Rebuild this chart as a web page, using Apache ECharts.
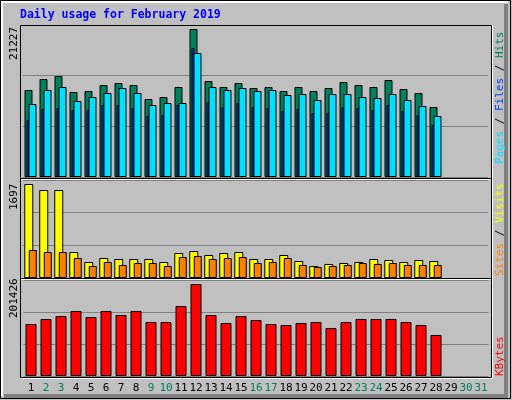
<!DOCTYPE html>
<html>
<head>
<meta charset="UTF-8">
<script src="https://cdn.jsdelivr.net/npm/echarts@6/dist/echarts.min.js"></script>
<style>
  body { margin: 0; }
  #chart { width: 512px; height: 400px; }
</style>
</head>
<body>
<div id="chart"></div>
<script>
var days = [];
for (var d = 1; d <= 31; d++) days.push(String(d));
var weekend = ['2', '3', '9', '10', '16', '17', '23', '24', '30', '31'];

var hits = [12476, 14053, 14483, 12189, 12332, 13193, 13480, 13193, 11185, 11472, 12906, 21227, 13766, 12906, 13480,
    12763, 12906, 12332, 12906, 12332, 12763, 13623, 13193, 12906, 13910, 12619, 12046, 10038, null, null, null];
var files = [10468, 12476, 12906, 10898, 11472, 12046, 12763, 12046, 10325, 10612, 10612, 17782, 12906, 12476, 12763,
    12332, 12476, 11759, 11902, 11042, 11902, 11902, 11472, 11329, 11902, 11042, 10181, 8747, null, null, null];
var pages = [8174, 9751, 9895, 9608, 9608, 10325, 10325, 9895, 8747, 8891, 10325, 18499, 10755, 10038, 10612,
    10038, 9895, 9464, 9751, 9178, 9178, 10038, 9895, 9608, 10325, 9464, 8891, 7457, null, null, null];
var visits = [1697, 1588, 1588, 469, 289, 361, 343, 343, 343, 289, 451, 487, 415, 451, 469,
    343, 343, 415, 307, 217, 253, 271, 289, 343, 325, 289, 325, 307, null, null, null];
var sites = [505, 469, 469, 361, 217, 289, 235, 271, 271, 217, 379, 397, 343, 361, 379,
    271, 289, 361, 235, 199, 217, 235, 271, 253, 271, 235, 235, 235, null, null, null];
var kbytes = [113854, 124802, 131370, 142318, 129181, 142318, 133560, 142318, 118233, 118233, 153265, 201426, 133560, 116044, 131370,
    122612, 113854, 111665, 116044, 118233, 105096, 118233, 124802, 124802, 124802, 118233, 111665, 89770, null, null, null];

var maxHits = 21801, maxVisits = 1769, maxKb = 210184;
var mono = 'DejaVu Sans Mono';

function xAx(gi, showLabels) {
    return {
        type: 'category', gridIndex: gi, data: days,
        axisLine: { show: false }, axisTick: { show: false },
        axisLabel: {
            show: showLabels, margin: 7, fontFamily: mono, fontSize: 11, interval: 0,
            color: function (v) { return weekend.indexOf(v) >= 0 ? '#00805c' : '#000'; }
        }
    };
}
function yAx(gi, max, grid) {
    return {
        type: 'value', gridIndex: gi, min: 0, max: max, interval: max / 3,
        axisLabel: { show: false }, axisLine: { show: false }, axisTick: { show: false },
        splitLine: { show: grid, lineStyle: { color: '#808080', width: 1 } }
    };
}
function bar(name, data, color, w, xi, z) {
    return {
        name: name, type: 'bar', data: data, xAxisIndex: xi, yAxisIndex: xi,
        barWidth: w, barGap: '-50%', z: z, animation: false,
        itemStyle: { color: color, borderColor: '#000', borderWidth: 1 }
    };
}

var chart = echarts.init(document.getElementById('chart'));
chart.setOption({
    backgroundColor: '#c0c0c0',
    grid: [
        { left: 23, right: 24, top: 25, height: 152 },
        { left: 20.5, right: 26.5, top: 25, height: 152 },
        { left: 23, right: 24, top: 180, height: 98 },
        { left: 23.5, right: 23.5, top: 280, height: 96 }
    ],
    xAxis: [xAx(0, false), xAx(1, false), xAx(2, false), xAx(3, true)],
    yAxis: [yAx(0, maxHits, true), yAx(1, maxHits, false), yAx(2, maxVisits, true), yAx(3, maxKb, true)],
    series: [
        bar('Hits', hits, '#00805c', 8, 0, 2),
        bar('Files', files, '#00e0ff', 8, 0, 4),
        bar('Pages', pages, '#0040ff', 3, 1, 3),
        bar('Visits', visits, '#ffff00', 9, 2, 2),
        bar('Sites', sites, '#ff8000', 8, 2, 3),
        bar('KBytes', kbytes, '#ff0000', 11, 3, 2)
    ],
    graphic: [
        { type: 'rect', z: -1, shape: { x: 0.5, y: 0.5, width: 510, height: 398 }, style: { fill: null, stroke: '#000' } },
        { type: 'polyline', z: -1, shape: { points: [[2, 396], [2, 2], [508, 2]] }, style: { stroke: '#fff', fill: null, lineWidth: 2 } },
        { type: 'polyline', z: -1, shape: { points: [[506, 4], [506, 396], [4, 396]] }, style: { stroke: '#808080', fill: null, lineWidth: 4 } },
        { type: 'rect', z: 10, shape: { x: 20.5, y: 25.5, width: 471, height: 352 }, style: { fill: null, stroke: '#000' } },
        { type: 'polyline', z: 10, shape: { points: [[21, 378.5], [492.5, 378.5], [492.5, 25]] }, style: { stroke: '#fff', fill: null } },
        { type: 'line', z: 10, shape: { x1: 21, y1: 178.5, x2: 491, y2: 178.5 }, style: { stroke: '#000' } },
        { type: 'line', z: 10, shape: { x1: 21, y1: 179.5, x2: 491, y2: 179.5 }, style: { stroke: '#fff' } },
        { type: 'line', z: 10, shape: { x1: 21, y1: 278.5, x2: 491, y2: 278.5 }, style: { stroke: '#000' } },
        { type: 'line', z: 10, shape: { x1: 21, y1: 279.5, x2: 491, y2: 279.5 }, style: { stroke: '#fff' } },
        { type: 'text', left: 20, top: 9, style: { text: 'Daily usage for February 2019', fill: '#0000ff', font: 'bold 11.5px ' + mono } },
        { type: 'text', x: 9, y: 60, rotation: Math.PI / 2, style: { text: '21227', fill: '#000', font: '11px ' + mono } },
        { type: 'text', x: 9, y: 210, rotation: Math.PI / 2, style: { text: '1697', fill: '#000', font: '11px ' + mono } },
        { type: 'text', x: 9, y: 318, rotation: Math.PI / 2, style: { text: '201426', fill: '#000', font: '11px ' + mono } },
        {
            type: 'text', x: 495, y: 164, rotation: Math.PI / 2,
            style: {
                text: '{p|Pages} / {f|Files} / {h|Hits}', fill: '#000', font: '11px ' + mono,
                rich: { p: { fill: '#00e0ff', font: '11px ' + mono }, f: { fill: '#0040ff', font: '11px ' + mono }, h: { fill: '#00805c', font: '11px ' + mono } }
            }
        },
        {
            type: 'text', x: 495, y: 276, rotation: Math.PI / 2,
            style: {
                text: '{s|Sites} / {v|Visits}', fill: '#000', font: '11px ' + mono,
                rich: { s: { fill: '#ff8000', font: '11px ' + mono }, v: { fill: '#ffff00', font: '11px ' + mono } }
            }
        },
        { type: 'text', x: 495, y: 376, rotation: Math.PI / 2, style: { text: 'KBytes', fill: '#ff0000', font: '11px ' + mono } }
    ]
});
</script>
</body>
</html>
